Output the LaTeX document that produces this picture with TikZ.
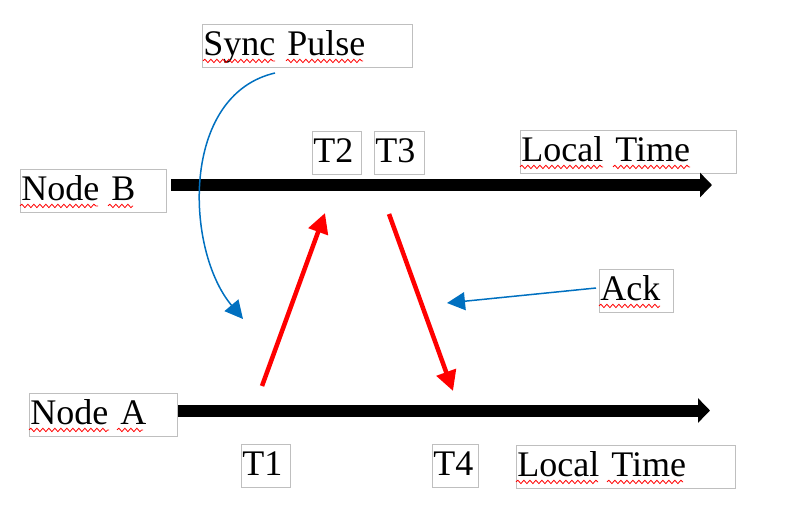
\documentclass[tikz,border=0pt]{standalone}
\usepackage{fontspec}
\setmainfont{Liberation Serif}
\usepackage{tikz}
\usetikzlibrary{arrows.meta,decorations.pathmorphing}
\definecolor{boxgray}{RGB}{191,191,191}
\definecolor{ackblue}{RGB}{0,112,192}
\tikzstyle{textbox}=[draw=boxgray, line width=0.8pt, anchor=north west, inner xsep=1pt, inner ysep=0pt, text height=31pt, text depth=12pt, align=left, font=\fontsize{36}{40}\selectfont]
\tikzstyle{timeline} = [draw,line width=12pt,-{Triangle[length=12pt,width=24pt]}]
\tikzstyle{message} = [draw=red,line width=4.5pt,-{Triangle[length=20pt,width=20pt]}]
\tikzstyle{note} = [draw=ackblue,line width=1.5pt,-{Triangle[length=18pt,width=18pt]}]
\tikzstyle{squiggle} = [draw=red, line width=0.8pt, decorate, decoration={snake, amplitude=1.7pt, segment length=6pt}]

\begin{document}
\begin{tikzpicture}[x=1pt, y=-1pt]
		\useasboundingbox (0,0) rectangle (786,517);
		% First we draw the text boxes
		\foreach \pos/\name/\txt/\w in {
			{(202,24)/sync/Sync Pulse/208}, {(20,169)/nodeb/Node B/144},
			{(312,131)/t2/T2/47}, {(374,131)/t3/T3/48}, {(520,130)/lttop/Local Time/214},
			{(599,269)/ack/Ack/72}, {(29,393)/nodea/Node A/146},
			{(241,444)/t1/T1/47}, {(432,444)/t4/T4/44}, {(516,445)/ltbot/Local Time/217}}
		\node[textbox, text width=\w pt] (\name) at \pos {\txt};
		
		% Spell check marks under the words
		\foreach \name/\dx/\len in {
			sync/1/72, sync/84/77, nodeb/0/78, nodeb/88/25, nodea/0/80, nodea/88/26,
			lttop/0/83, lttop/93/77, ltbot/0/82, ltbot/91/76, ack/0/61}
		\path[squiggle] ([xshift=\dx pt, yshift=-5.5pt]\name.base west) -- ++(\len,0);
		
		% End points of the arrows
		\coordinate (b0) at (171,185);
		\coordinate (b1) at (712,185);
		\coordinate (a0) at (178,410.5);
		\coordinate (a1) at (710,410.5);
		\coordinate (sendt1) at (262,386);
		\coordinate (recvt2) at (325,213);
		\coordinate (sendt3) at (389,214);
		\coordinate (recvt4) at (453,391);
		\coordinate (synctail) at (275,73);
		\coordinate (synchead) at (243,319);
		\coordinate (acktail) at (596,288);
		\coordinate (ackhead) at (447,303);
		
		% Connect them
		\foreach \source/ \dest in {b0/b1, a0/a1}
		\path[timeline] (\source) -- (\dest);
		\foreach \source/ \dest in {sendt1/recvt2, sendt3/recvt4}
		\path[message] (\source) -- (\dest);
		\path[note] (acktail) -- (ackhead);
		\path[note] (synctail) .. controls (180,95) and (185,250) .. (synchead);
		\end{tikzpicture}
\end{document}
